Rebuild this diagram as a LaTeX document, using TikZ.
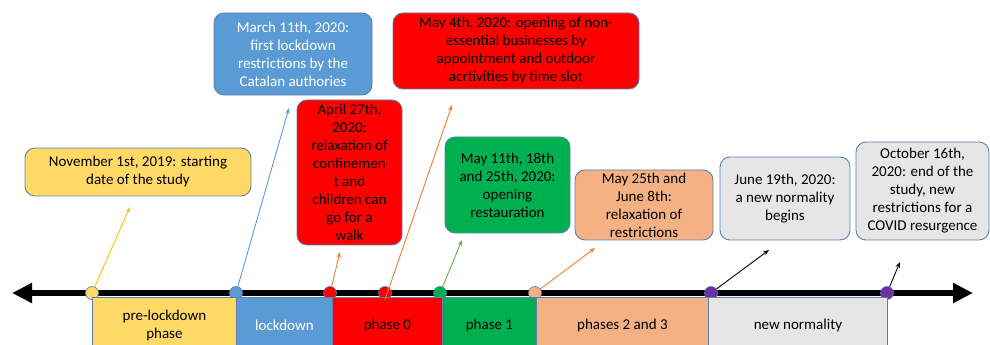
\documentclass[tikz,border=0pt]{standalone}
\usepackage{fontspec}
\setmainfont{Carlito}
\usetikzlibrary{arrows.meta}
\definecolor{edge}{HTML}{5B7FAF}
\definecolor{cyel}{HTML}{FFD966}
\definecolor{ayel}{HTML}{FFC000}
\definecolor{cblue}{HTML}{5B9BD5}
\definecolor{cred}{HTML}{FF0000}
\definecolor{cgreen}{HTML}{00B050}
\definecolor{agreen}{HTML}{70AD47}
\definecolor{corange}{HTML}{F4B183}
\definecolor{aorange}{HTML}{ED7D31}
\definecolor{cgray}{HTML}{E7E6E6}
\definecolor{cpurple}{HTML}{7030A0}
\begin{document}
\begin{tikzpicture}[x=1pt,y=1pt,
  evbox/.style={draw=edge, line width=0.9pt, rounded corners=10pt, align=center, inner sep=0pt, font=\fontsize{15}{18}\selectfont},
  perbox/.style={draw=edge, line width=0.9pt, anchor=north west, minimum height=56pt, inner sep=0pt, align=center, font=\fontsize{15}{18}\selectfont},
  dot/.style={circle, draw=edge, line width=0.6pt, minimum size=13pt, inner sep=0pt},
  conn/.style={line width=0.9pt, -{Stealth[length=6pt,width=4.5pt]}}]
\useasboundingbox (0,0) rectangle (990,345);

% axis
\coordinate (axl) at (12,52);
\coordinate (axr) at (973,52);
\draw[line width=5.5pt, {Triangle[length=20pt,width=19pt]}-{Triangle[length=20pt,width=19pt]}] (axl) -- (axr);

% dots
\node[dot, fill=cyel] (d1) at (92,52) {};
\node[dot, fill=cblue] (d2) at (236,52) {};
\node[dot, fill=cred] (d3) at (330,52) {};
\node[dot, fill=cred] (d4) at (385,52) {};
\node[dot, fill=cgreen] (d5) at (440,52) {};
\node[dot, fill=corange] (d6) at (535,52) {};
\node[dot, fill=cpurple] (d7) at (711,52) {};
\node[dot, fill=cpurple] (d8) at (887,52) {};

% period boxes
\node[perbox, fill=cyel, minimum width=144pt] (p1) at (92,48) {pre-lockdown\\phase};
\node[perbox, fill=cblue, minimum width=96pt, text=white] (p2) at (236,48) {lockdown};
\node[perbox, fill=cred, minimum width=110pt] (p3) at (332,48) {phase 0};
\node[perbox, fill=cgreen, minimum width=94pt] (p4) at (442,48) {phase 1};
\node[perbox, fill=corange, minimum width=172pt] (p5) at (536,48) {phases 2 and 3};
\node[perbox, fill=cgray, minimum width=179pt] (p6) at (708,48) {new normality};

% event boxes
\node[evbox, fill=cyel, minimum width=226pt, minimum height=48pt] (e1) at (138,173) {November 1st, 2019: starting\\date of the study};
\node[evbox, fill=cblue, text=white, minimum width=158pt, minimum height=82pt] (e2) at (293,291) {March 11th, 2020:\\first lockdown\\restrictions by the\\Catalan authories};
\node[evbox, fill=cred, minimum width=105pt, minimum height=145pt] (e3) at (349.5,172.5) {April 27th,\\2020:\\relaxation of\\confinemen\\t and\\children can\\go for a\\walk};
\node[evbox, fill=cred, minimum width=246pt, minimum height=76pt] (e4) at (516,294) {May 4th, 2020: opening of non-\\essential businesses by\\appointment and outdoor\\acrtivities by time slot};
\node[evbox, fill=cgreen, minimum width=125pt, minimum height=96pt] (e5) at (507.5,160) {May 11th, 18th\\and 25th, 2020:\\opening\\restauration};
\node[evbox, fill=corange, minimum width=138pt, minimum height=70pt] (e6) at (644,140) {May 25th and\\June 8th:\\relaxation of\\restrictions};
\node[evbox, fill=cgray, minimum width=130pt, minimum height=83pt] (e7) at (785,146.5) {June 19th, 2020:\\a new normality\\begins};
\node[evbox, fill=cgray, minimum width=133pt, minimum height=98pt] (e8) at (922.5,154) {October 16th,\\2020: end of the\\study, new\\restrictions for a\\COVID resurgence};

% arrow targets
\coordinate (a1) at (130,138);
\coordinate (a2) at (289,237);
\coordinate (a3) at (340,93);
\coordinate (a4) at (452,240);
\coordinate (a5) at (462,105);
\coordinate (a6) at (595,97);
\coordinate (a7) at (769,95);
\coordinate (a8) at (900,83);

\draw[conn, draw=ayel] (d1) -- (a1);
\draw[conn, draw=cblue] (d2) -- (a2);
\draw[conn, draw=aorange] (d3) -- (a3);
\draw[conn, draw=aorange] (d4.south) -- (a4);
\draw[conn, draw=agreen] (d5) -- (a5);
\draw[conn, draw=aorange] (d6) -- (a6);
\draw[conn, draw=black] (d7) -- (a7);
\draw[conn, draw=black] (d8) -- (a8);
\end{tikzpicture}
\end{document}
